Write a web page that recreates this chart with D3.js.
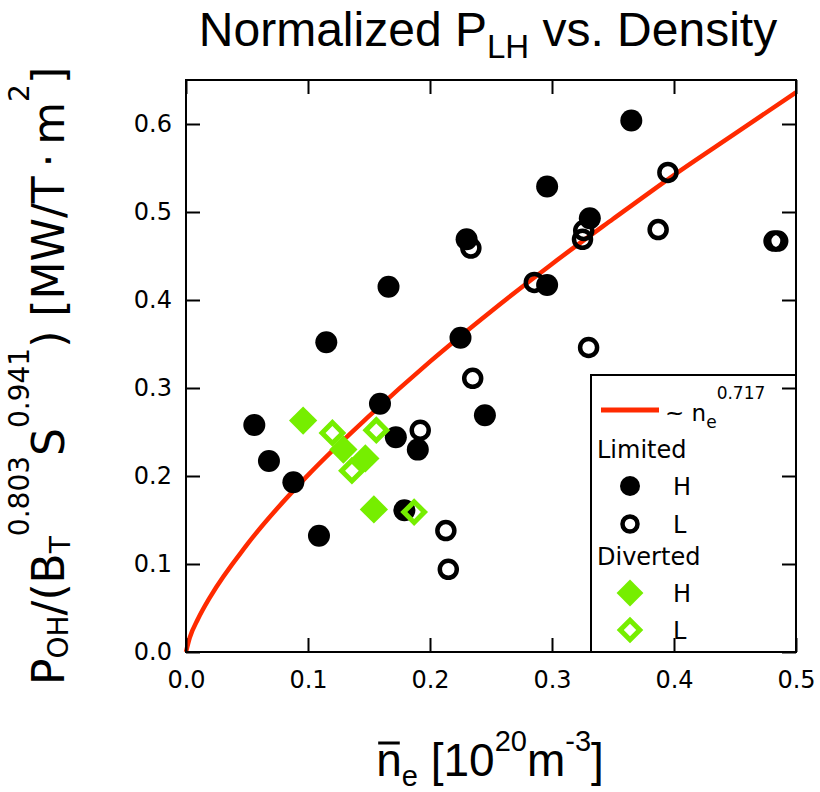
<!DOCTYPE html>
<html>
<head>
<meta charset="utf-8">
<script src="https://cdn.jsdelivr.net/npm/d3@7"></script>
<style>
  body { margin: 0; background: #fff; }
</style>
</head>
<body>
<svg id="chart" width="820" height="792"></svg>
<script>
// Limited plasmas, H-mode (filled black circles) : [density, normalized power]
const limitedH = [
  [0.365, 0.604], [0.296, 0.529], [0.331, 0.493], [0.230, 0.469], [0.166, 0.415],
  [0.296, 0.417], [0.115, 0.352], [0.225, 0.357], [0.159, 0.282], [0.245, 0.269],
  [0.056, 0.258], [0.172, 0.244], [0.190, 0.230], [0.068, 0.217], [0.088, 0.193],
  [0.179, 0.161], [0.109, 0.132]
];
// Limited plasmas, L-mode (open black circles)
const limitedL = [
  [0.395, 0.545], [0.387, 0.480], [0.326, 0.479], [0.325, 0.469], [0.482, 0.467],
  [0.485, 0.467], [0.2335, 0.459], [0.2855, 0.420], [0.330, 0.346], [0.235, 0.311],
  [0.192, 0.252], [0.213, 0.138], [0.215, 0.094]
];
// Diverted plasmas, H-mode (filled green diamonds)
const divertedH = [[0.096, 0.263], [0.129, 0.230], [0.147, 0.220], [0.154, 0.162]];
// Diverted plasmas, L-mode (open green diamonds)
const divertedL = [[0.120, 0.249], [0.156, 0.252], [0.136, 0.206], [0.187, 0.159]];

// red fit curve ~ n_e^0.717
const fitX = [0, 0.003, 0.01, 0.02, 0.05, 0.1, 0.15, 0.2, 0.25, 0.3, 0.35, 0.4, 0.45, 0.5];
const fitY = [0, 0.016, 0.038, 0.063, 0.122, 0.201, 0.268, 0.330, 0.387, 0.441, 0.492, 0.542, 0.589, 0.636];

const xTicks = [0, 0.1, 0.2, 0.3, 0.4, 0.5];
const yTicks = [0, 0.1, 0.2, 0.3, 0.4, 0.5, 0.6];

const green = "#76ee00";
const red = "#ff2a00";

const svg = d3.select("#chart");

const x = d3.scaleLinear().domain([0, 0.5]).range([186, 796]);
const y = d3.scaleLinear().domain([0, 0.65]).range([652, 80]);

const diamond = (area) => d3.symbol().type(d3.symbolSquare).size(area)();

// fit curve
const line = d3.line()
  .x(d => x(d[0]))
  .y(d => y(d[1]))
  .curve(d3.curveMonotoneX);

svg.append("path")
  .datum(fitX.map((v, i) => [v, fitY[i]]))
  .attr("d", line)
  .attr("fill", "none")
  .attr("stroke", red)
  .attr("stroke-width", 4.5);

// points
svg.append("g").selectAll("circle")
  .data(limitedH).enter().append("circle")
    .attr("cx", d => x(d[0])).attr("cy", d => y(d[1]))
    .attr("r", 11).attr("fill", "black");

svg.append("g").selectAll("circle")
  .data(limitedL).enter().append("circle")
    .attr("cx", d => x(d[0])).attr("cy", d => y(d[1]))
    .attr("r", 8.5).attr("fill", "none")
    .attr("stroke", "black").attr("stroke-width", 4.5);

svg.append("g").selectAll("path")
  .data(divertedH).enter().append("path")
    .attr("d", diamond(400))
    .attr("transform", d => `translate(${x(d[0])},${y(d[1])}) rotate(45)`)
    .attr("fill", green);

svg.append("g").selectAll("path")
  .data(divertedL).enter().append("path")
    .attr("d", diamond(214))
    .attr("transform", d => `translate(${x(d[0])},${y(d[1])}) rotate(45)`)
    .attr("fill", "none")
    .attr("stroke", green).attr("stroke-width", 5);

// legend box
const legend = svg.append("g");
legend.append("rect")
  .attr("x", 591).attr("y", 375)
  .attr("width", 796 - 591).attr("height", 652 - 375)
  .attr("fill", "white").attr("stroke", "black").attr("stroke-width", 2);

legend.append("line")
  .attr("x1", 601).attr("x2", 659).attr("y1", 410).attr("y2", 410)
  .attr("stroke", red).attr("stroke-width", 5);

const fitLab = legend.append("text")
  .attr("x", 665).attr("y", 421)
  .style("font-family", "DejaVu Sans").style("font-size", "23px");
fitLab.append("tspan").text("~ n");
fitLab.append("tspan").attr("dy", 7).style("font-size", "17px").text("e");
fitLab.append("tspan").attr("dy", -29).style("font-size", "17px").text("0.717");

const legRows = [
  { label: "Limited", y: 458, head: true },
  { label: "H", y: 495, mark: "fc" },
  { label: "L", y: 533, mark: "oc" },
  { label: "Diverted", y: 565, head: true },
  { label: "H", y: 602, mark: "fd" },
  { label: "L", y: 639, mark: "od" }
];

legend.selectAll("text.row")
  .data(legRows).enter().append("text")
    .attr("class", "row")
    .attr("x", d => d.head ? 597 : 673)
    .attr("y", d => d.y)
    .style("font-family", "DejaVu Sans").style("font-size", "24px")
    .text(d => d.label);

legRows.filter(d => d.mark).forEach(d => {
  const cy = d.y - 9;
  if (d.mark == "fc") legend.append("circle").attr("cx", 630).attr("cy", cy).attr("r", 10).attr("fill", "black");
  if (d.mark == "oc") legend.append("circle").attr("cx", 630).attr("cy", cy).attr("r", 7.5)
    .attr("fill", "none").attr("stroke", "black").attr("stroke-width", 4.5);
  if (d.mark == "fd") legend.append("path").attr("d", diamond(360))
    .attr("transform", `translate(630,${cy}) rotate(45)`).attr("fill", green);
  if (d.mark == "od") legend.append("path").attr("d", diamond(190))
    .attr("transform", `translate(630,${cy}) rotate(45)`)
    .attr("fill", "none").attr("stroke", green).attr("stroke-width", 5);
});

// axes, ticks pointing inside on all four sides
const tickFont = g => g.selectAll("text")
  .style("font-family", "DejaVu Sans").style("font-size", "24px").attr("fill", "black");

const axB = svg.append("g").attr("transform", "translate(0,652)")
  .call(d3.axisBottom(x).tickValues(xTicks).tickSizeInner(-14).tickSizeOuter(0)
    .tickPadding(19).tickFormat(d3.format(".1f")));
const axL = svg.append("g").attr("transform", "translate(186,0)")
  .call(d3.axisLeft(y).tickValues(yTicks).tickSizeInner(-14).tickSizeOuter(0)
    .tickPadding(14).tickFormat(d3.format(".1f")));
const axT = svg.append("g").attr("transform", "translate(0,80)")
  .call(d3.axisTop(x).tickValues(xTicks).tickSizeInner(-14).tickSizeOuter(0).tickFormat(""));
const axR = svg.append("g").attr("transform", "translate(796,0)")
  .call(d3.axisRight(y).tickValues(yTicks).tickSizeInner(-14).tickSizeOuter(0).tickFormat(""));

[axB, axL, axT, axR].forEach(a => {
  a.select(".domain").remove();
  a.selectAll("line").attr("stroke", "black").attr("stroke-width", 2);
  tickFont(a);
});

// frame
svg.append("rect")
  .attr("x", 186).attr("y", 80).attr("width", 610).attr("height", 572)
  .attr("fill", "none").attr("stroke", "black").attr("stroke-width", 2);

// title
const title = svg.append("text")
  .attr("x", 488).attr("y", 46)
  .attr("text-anchor", "middle")
  .style("font-family", "Liberation Sans, Arial").style("font-size", "48px");
title.append("tspan").text("Normalized P");
title.append("tspan").attr("dy", 12).style("font-size", "33px").text("LH");
title.append("tspan").attr("dy", -12).text(" vs. Density");

// x axis label
const xLab = svg.append("text")
  .attr("x", 490).attr("y", 776)
  .attr("text-anchor", "middle")
  .style("font-family", "Liberation Sans, Arial").style("font-size", "46px");
xLab.append("tspan").text("n");
xLab.append("tspan").attr("dy", 10).style("font-size", "29px").text("e");
xLab.append("tspan").attr("dy", -10).text(" [10");
xLab.append("tspan").attr("dy", -25).style("font-size", "29px").text("20");
xLab.append("tspan").attr("dy", 25).text("m");
xLab.append("tspan").attr("dy", -25).style("font-size", "29px").text("-3");
xLab.append("tspan").attr("dy", 25).text("]");

// overline over n
const nBox = xLab.node().getExtentOfChar(0);
svg.append("line")
  .attr("x1", nBox.x + 2).attr("x2", nBox.x + nBox.width - 2)
  .attr("y1", 743).attr("y2", 743)
  .attr("stroke", "black").attr("stroke-width", 3);

// y axis label (rotated)
const yLab = svg.append("text")
  .attr("transform", "translate(64,376) rotate(-90)")
  .attr("text-anchor", "middle")
  .style("font-family", "DejaVu Sans").style("font-size", "44px");
yLab.append("tspan").text("P");
yLab.append("tspan").attr("dy", 4).style("font-size", "28px").text("OH");
yLab.append("tspan").attr("dy", -4).text("/(B");
yLab.append("tspan").attr("dy", 6).style("font-size", "28px").text("T");
yLab.append("tspan").attr("dy", -41).style("font-size", "28px").text("0.803");
yLab.append("tspan").attr("dy", 35).text("S");
yLab.append("tspan").attr("dy", -35).style("font-size", "28px").text("0.941");
yLab.append("tspan").attr("dy", 35).text(")  [MW/T\u2009·\u2009m");
yLab.append("tspan").attr("dy", -35).style("font-size", "28px").text("2");
yLab.append("tspan").attr("dy", 35).text("]");
</script>
</body>
</html>
